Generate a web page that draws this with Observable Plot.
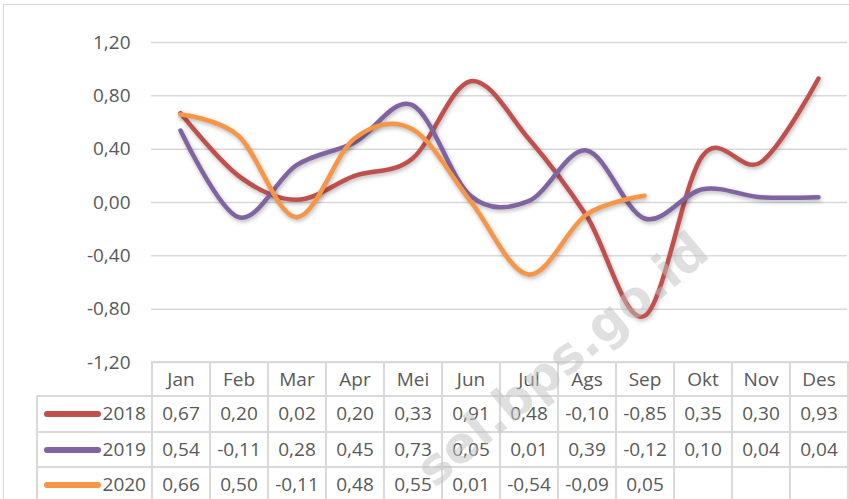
<!DOCTYPE html>
<html>
<head>
<meta charset="utf-8">
<script src="https://cdn.jsdelivr.net/npm/d3@7"></script>
<script src="https://cdn.jsdelivr.net/npm/@observablehq/plot@0.6"></script>
<style>
  html, body { margin: 0; padding: 0; background: #fff; }
  #wrap { position: relative; width: 849px; height: 499px; overflow: hidden; background: #fff; font-family: "Open Sans", sans-serif; }
  #frame { position: absolute; left: 3px; top: 4px; width: 860px; height: 520px; border: 1.5px solid #d9d9d9; box-sizing: border-box; }
  #chart { position: absolute; left: 0; top: 0; }
  #chart g[aria-label="line"] path { filter: drop-shadow(1.5px 2.5px 2px rgba(0,0,0,0.28)); }
  table { position: absolute; left: 36px; top: 361px; border-collapse: collapse; table-layout: fixed; width: 811px; color: #595959; font-size: 19px; }
  td { border: 2px solid #d9d9d9; text-align: center; vertical-align: middle; padding: 0; white-space: nowrap; overflow: hidden; line-height: 1; }
  tr.hdr td { height: 32px; }
  tr.row td { height: 33.5px; }
  td.corner { border-top: none; border-left: none; }
  td.lab { text-align: right; padding-right: 5px; }
  .sw { display: inline-block; width: 57px; height: 6px; border-radius: 3px; vertical-align: middle; margin-right: 2px; position: relative; top: -1px; }
  #wm { position: absolute; left: 0; top: 0; pointer-events: none; }
</style>
</head>
<body>
<div id="wrap">
  <div id="frame"></div>
  <div id="chart"></div>
  <table id="tbl"></table>
  <svg id="wm" width="849" height="499"></svg>
</div>
<script>
const months = ["Jan","Feb","Mar","Apr","Mei","Jun","Jul","Ags","Sep","Okt","Nov","Des"];
const years = ["2018","2019","2020"];
const v2018 = [0.67,0.20,0.02,0.20,0.33,0.91,0.48,-0.10,-0.85,0.35,0.30,0.93];
const v2019 = [0.54,-0.11,0.28,0.45,0.73,0.05,0.01,0.39,-0.12,0.10,0.04,0.04];
const v2020 = [0.66,0.50,-0.11,0.48,0.55,0.01,-0.54,-0.09,0.05];
const colors = ["#C0504D","#8064A2","#F79646"];
const yTicks = [-1.2,-0.8,-0.4,0,0.4,0.8,1.2];
const watermark = "sel.bps.go.id";

const series = [v2018, v2019, v2020];
const data = [];
series.forEach((vals, i) => vals.forEach((v, j) => data.push({year: years[i], month: months[j], value: v})));

const fmt = v => d3.format(".2f")(v).replace(".", ",").replace("−", "-");

const chart = Plot.plot({
  width: 849,
  height: 499,
  marginTop: 42,
  marginBottom: 137,
  marginLeft: 151,
  marginRight: 2,
  style: {fontFamily: "'Open Sans', sans-serif", fontSize: "19px", color: "#595959", background: "transparent"},
  x: {type: "point", domain: months, padding: 0.5, axis: null},
  y: {domain: [-1.2, 1.2], ticks: yTicks},
  color: {domain: years, range: colors},
  marks: [
    Plot.ruleY(yTicks, {stroke: "#d9d9d9", strokeWidth: 1.5}),
    Plot.axisY({ticks: yTicks, tickSize: 0, tickPadding: 21, tickFormat: fmt, fontSize: 19, label: null}),
    Plot.line(data, {x: "month", y: "value", z: "year", stroke: "year", strokeWidth: 4.5,
      strokeLinecap: "round", strokeLinejoin: "round", curve: d3.curveCardinal.tension(0)})
  ]
});
document.getElementById("chart").appendChild(chart);

// data table
const tbl = document.getElementById("tbl");
const cg = document.createElement("colgroup");
[115, ...months.map(() => 58)].forEach(w => { const c = document.createElement("col"); c.style.width = w + "px"; cg.appendChild(c); });
tbl.appendChild(cg);
const hdr = document.createElement("tr"); hdr.className = "hdr";
const corner = document.createElement("td"); corner.className = "corner"; hdr.appendChild(corner);
months.forEach(m => { const td = document.createElement("td"); td.textContent = m; hdr.appendChild(td); });
tbl.appendChild(hdr);
years.forEach((y, i) => {
  const tr = document.createElement("tr"); tr.className = "row";
  const lab = document.createElement("td"); lab.className = "lab";
  const sw = document.createElement("span"); sw.className = "sw"; sw.style.background = colors[i];
  lab.appendChild(sw); lab.appendChild(document.createTextNode(y));
  tr.appendChild(lab);
  months.forEach((m, j) => {
    const td = document.createElement("td");
    const v = series[i][j];
    td.textContent = v === undefined ? "" : fmt(v);
    tr.appendChild(td);
  });
  tbl.appendChild(tr);
});

// watermark
const wm = d3.select("#wm");
wm.append("text")
  .attr("transform", "translate(712,256) rotate(-40)")
  .attr("text-anchor", "end")
  .attr("font-family", "'DejaVu Sans', sans-serif")
  .attr("font-weight", "bold")
  .attr("font-size", 50)
  .attr("fill", "#bfbfbf")
  .attr("fill-opacity", 0.5)
  .text(watermark);
</script>
</body>
</html>
